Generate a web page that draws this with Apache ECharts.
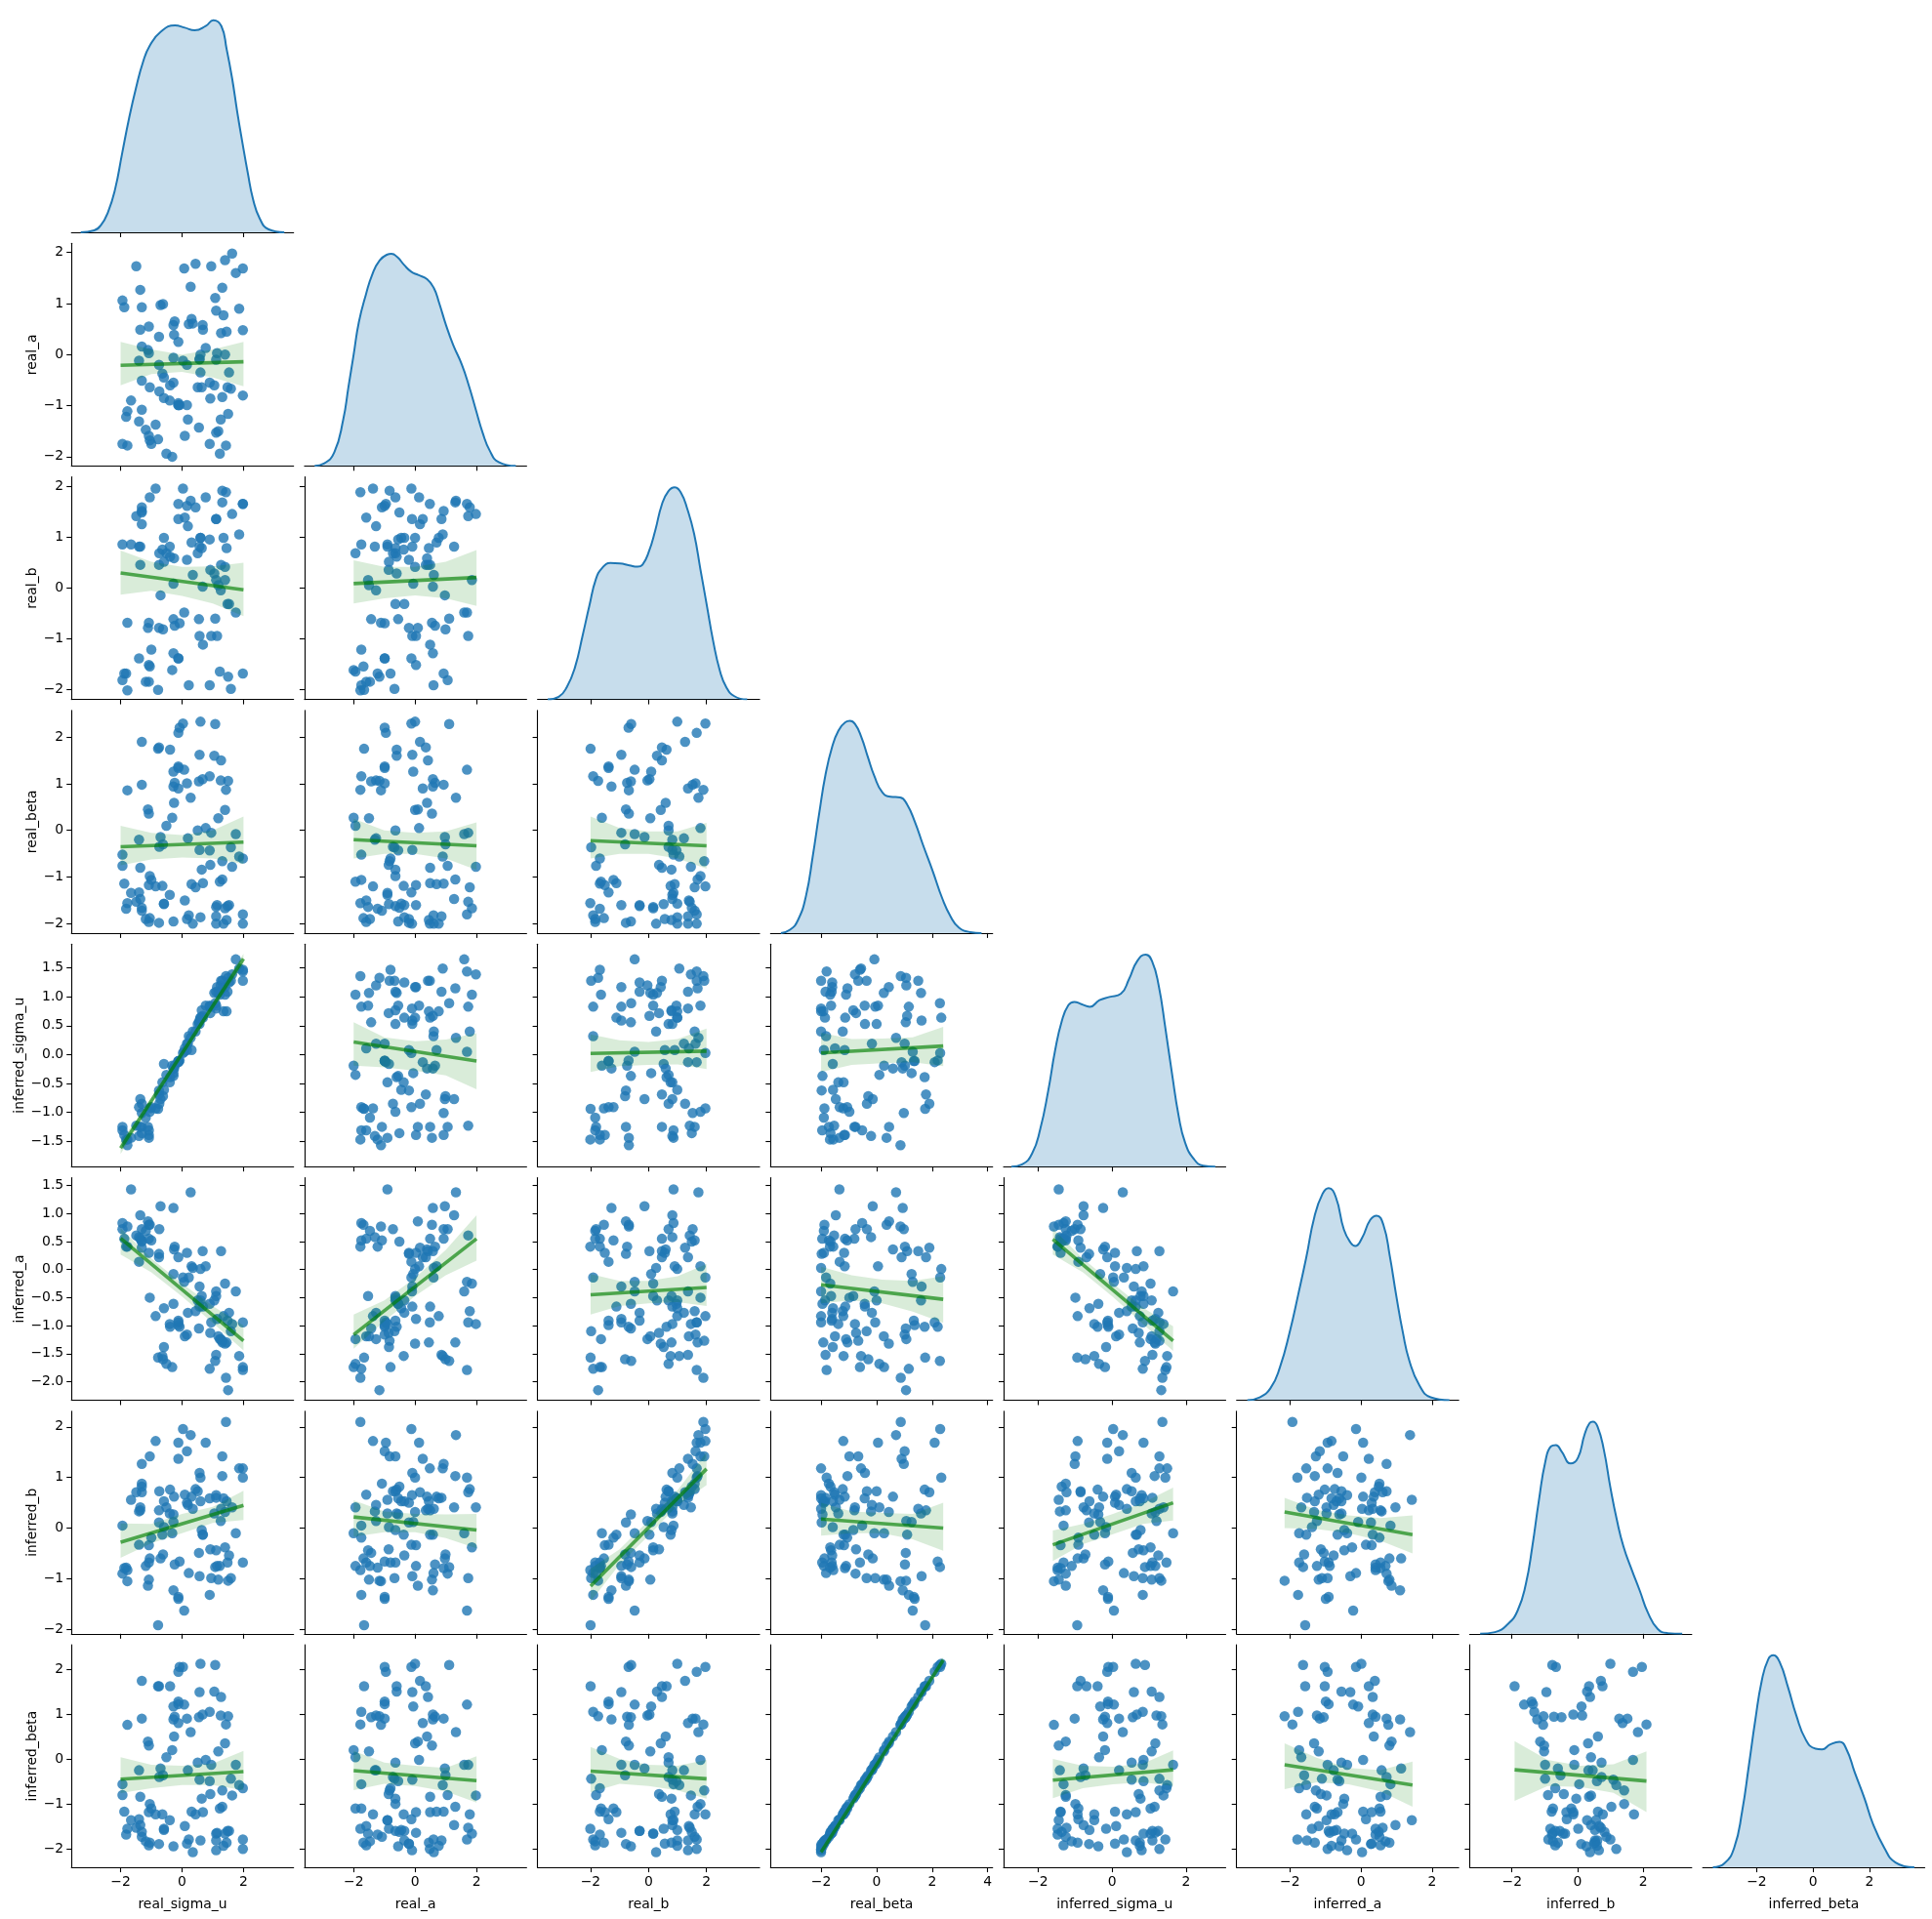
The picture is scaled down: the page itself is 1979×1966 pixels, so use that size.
<!DOCTYPE html>
<html><head><meta charset="utf-8">
<style>html,body{margin:0;padding:0;background:#fff}#c{width:1979px;height:1966px}</style>
<script src="https://cdn.jsdelivr.net/npm/echarts@6/dist/echarts.min.js"></script>
</head><body><div id="c"></div>
<script>
const varNames = ['real_sigma_u','real_a','real_b','real_beta','inferred_sigma_u','inferred_a','inferred_b','inferred_beta'];

const real_sigma_u = [.6,1.08,-.08,.03,-.12,-1.31,-.78,-.75,-.39,1.05,
 .57,1.27,-.12,-.12,.07,-.28,.9,.67,1.26,1.5,
 -.24,.55,-1.31,.16,-.28,-.12,1.43,-1.78,.28,-.26,
 -1.11,1.4,-1.08,-.32,1.18,-.51,.77,.51,.95,1.75,
 -1.4,-.7,.19,-.62,-.74,1.59,.57,.9,-1.94,1.86,
 1.98,1.31,-1.94,-1.36,1.63,.92,.64,-1.05,1.31,1.23,
 -1.0,-1.88,-1.08,.68,.31,.44,-.86,-.64,-1.4,-.4,
 -1.66,-1.36,.09,-1.49,-1.78,-.59,-.59,1.48,1.53,-1.31,
 1.14,1.11,1.4,-1.82,-1.31,.22,1.98,.6,1.11,-1.18,
 -1.05,1.45,.16,-1.08,1.35,-.28,1.98,1.11,.35,-.75];
const real_a = [0,1.11,-.99,-.12,-.95,.16,-1.66,.35,-.6,-.6,
 -.09,.42,-.99,-.99,1.69,-.06,-1.75,.58,-1.27,-1.16,
 .65,-1.43,.93,-.99,.58,.25,-1.78,-1.11,1.33,.39,
 .09,0,.55,-2,-1.5,-1.94,.13,-.64,1.73,1.6,
 -1.31,.97,-1.27,.99,-.72,-.67,-.09,-.55,-1.75,.9,
 -.8,-.83,1.06,.49,1.98,-.86,-.64,-.64,1.31,-1.94,
 -1.75,.93,.03,.49,.7,1.78,-1.37,-.37,-.12,-.9,
 -.9,1.27,-1.59,1.73,-1.78,-.85,-.45,-.64,-.35,-.51,
 .03,-1.53,1.85,-1.22,-1.08,.6,1.69,-.35,.86,-1.47,
 -1.68,.45,-.2,-1.59,.77,-.55,.48,-.1,.61,-.2];
const real_b = [.99,-.6,-.69,1.96,1.66,1.26,-2.0,.46,.62,.29,
 -.94,.46,-1.38,-1.38,-.48,.09,-1.91,.03,-.04,-1.74,
 -.74,-.61,1.52,1.62,-1.28,1.36,1.89,-.68,1.72,.59,
 -.78,.42,-.68,-1.61,.06,.69,1.79,.69,-.94,-.48,
 .82,-.14,1.22,-.81,.69,-1.98,.82,.96,.86,1.06,
 -1.68,1.92,-1.81,.46,1.46,.36,.79,1.79,1.69,-1.64,
 -1.21,-1.68,-1.51,-1.11,.9,1.59,1.96,.76,-1.38,.82,
 .86,.82,1.39,1.42,-2.01,.52,.99,-.31,-.31,1.49,
 -.94,.16,.16,-1.68,1.59,-1.91,1.66,.99,1.36,-1.84,
 -1.54,.79,.56,-1.84,.99,-.61,1.66,1.36,.26,-.78];
const real_beta = [2.33,2.28,2.2,2.29,2.09,1.9,1.75,1.78,1.73,1.6,
 1.62,1.5,1.37,1.34,1.3,1.26,1.16,1.1,1.07,1.06,
 1.02,1.05,.98,1.01,.94,.9,.87,.86,.7,.59,
 .45,.44,.36,.27,.26,.1,.05,0,-.05,-.08,
 -.2,-.14,-.17,-.3,-.35,-.36,-.42,-.43,-.52,-.56,
 -.6,-.66,-.76,-.8,-.78,-.74,-.84,-.98,-1.05,-1.1,
 -1.06,-1.14,-1.17,-1.13,-1.15,-1.22,-1.2,-1.19,-1.33,-1.38,
 -1.34,-1.47,-1.5,-1.53,-1.56,-1.58,-1.57,-1.62,-1.6,-1.66,
 -1.6,-1.64,-1.67,-1.68,-1.72,-1.82,-1.8,-1.86,-1.84,-1.9,
 -1.88,-1.92,-1.9,-1.96,-2.0,-1.95,-2.0,-2.0,-2.0,-1.98];
const inferred_sigma_u = [.64,.89,-.1,.03,-.13,-.85,-.94,-.69,-.39,1.07,
 .59,1.28,-.11,-.11,.05,-.32,.83,.67,1.2,1.33,
 -.19,.56,-1.01,.19,-.24,-.13,1.36,-1.57,.29,-.24,
 -1.25,1.17,-1.44,-.19,1.07,-.35,.85,.53,.83,1.65,
 -1.41,-.77,.19,-.72,-.85,1.28,.53,.85,-1.31,1.49,
 1.47,1.28,-1.25,-1.25,1.39,.72,.77,-.99,1.15,1.04,
 -.91,-1.39,-1.39,.64,.08,.4,-.93,-.48,-.91,-.48,
 -1.44,-.77,.11,-1.23,-1.47,-.16,-.61,1.09,1.25,-1.36,
 1.17,.85,1.04,-1.47,-1.25,.32,1.44,.64,1.09,-1.09,
 -.93,.75,.08,-1.31,.75,-.37,1.28,.8,.4,-.62];
const inferred_a = [.01,-1.63,-1.02,-.14,-.94,.39,-1.57,.22,-1.02,-.55,
 -.3,.33,-.99,-.91,-.22,-.08,-1.77,.33,-1.24,-2.15,
 .41,-1.05,.72,-1.16,1.1,.22,-1.93,.77,1.38,.36,
 .86,-1.32,.8,-1.74,-1.19,-1.68,.06,-.55,-.94,-.39,
 .58,1.13,-.77,-1.6,.72,-1.1,-.66,-.61,.83,-1.54,
 -1.74,-1.27,.72,.55,-.97,-1.13,-.47,-.5,-1.3,-1.24,
 .52,.55,.3,-.66,.06,-.74,-.83,-1.54,.14,-.97,
 1.43,.97,-1.19,.61,.41,-1.38,-.69,-.91,-.77,.5,
 -.88,-.47,-.25,.41,.52,-.14,-1.79,-.55,-1.52,.69,
 .8,-1.3,.3,.55,-.83,-.61,-.94,-.39,.03,.28];
const inferred_b = [1.0,-.77,-.66,1.96,1.69,.71,-1.92,.35,.76,.29,
 -.95,.38,-1.4,-1.36,-1.63,.12,-1.32,-.13,.14,-1.04,
 -.72,-.49,1.27,1.52,-1.23,1.37,2.1,-1.05,1.84,.62,
 -1.14,.32,-1.02,-.1,-1.02,.41,1.69,.73,-.99,-.1,
 .33,-.6,.46,-.52,.73,-.99,1.09,.59,.05,1.18,
 -.68,1.42,-.9,.35,.41,-.42,-.04,1.42,1.03,-.75,
 -.19,-.79,-.34,-.13,.62,.77,1.72,-.13,-.33,.29,
 .56,.41,.66,.71,-.83,.02,.53,-.68,-.54,.82,
 -.75,-.44,-.38,-.78,.88,-.89,1.0,.53,.6,-.75,
 -.6,.53,.5,-.68,.59,.27,1.18,.65,.38,.11];
const inferred_beta = [2.12,2.09,2.05,2.05,1.94,1.74,1.62,1.62,1.62,1.5,
 1.49,1.38,1.28,1.22,1.21,1.17,1.05,.99,.97,.95,
 .94,.93,.9,.9,.88,.8,.77,.76,.6,.5,
 .39,.35,.3,.2,.17,.04,-.02,-.08,-.13,-.13,
 -.25,-.21,-.25,-.36,-.4,-.44,-.46,-.49,-.56,-.58,
 -.65,-.7,-.8,-.84,-.81,-.78,-.88,-1.0,-1.06,-1.1,
 -1.1,-1.17,-1.18,-1.18,-1.17,-1.23,-1.23,-1.23,-1.34,-1.36,
 -1.36,-1.47,-1.49,-1.53,-1.55,-1.55,-1.58,-1.6,-1.6,-1.62,
 -1.64,-1.66,-1.66,-1.68,-1.73,-1.79,-1.79,-1.81,-1.81,-1.83,
 -1.86,-1.86,-1.88,-1.92,-1.93,-1.94,-2.0,-2.03,-2.07,-1.89];

// density curves: [x, height]
const kde_real_sigma_u = [[-3.3,0],[-2.86,6],[-2.64,22],[-2.41,62],[-2.18,132],[-1.95,242],[-1.73,347],[-1.5,442],[-1.27,522],[-1.05,572],[-.7,614],[-.23,634],[.09,627],[.41,619],[.77,632],[1.02,650],[1.28,632],[1.45,562],[1.63,472],[1.8,367],[1.97,272],[2.14,182],[2.31,102],[2.53,42],[2.82,9],[3.33,0]];
const kde_real_a = [[-3.27,0],[-2.97,7],[-2.63,42],[-2.34,142],[-2.17,242],[-2,342],[-1.83,442],[-1.6,527],[-1.38,592],[-1.15,632],[-.92,649],[-.77,652],[-.58,642],[-.35,617],[-.125,597],[.1,587],[.39,574],[.61,547],[.78,502],[1.01,432],[1.24,372],[1.52,312],[1.75,247],[1.98,172],[2.2,102],[2.43,47],[2.72,12],[3.28,0]];
const kde_real_b = [[-3.48,0],[-3.1,8],[-2.82,38],[-2.54,98],[-2.27,198],[-2.04,288],[-1.82,368],[-1.6,403],[-1.32,418],[-.99,417],[-.66,411],[-.38,407],[-.21,413],[.01,453],[.23,518],[.46,598],[.68,638],[.9,650],[1.12,633],[1.34,583],[1.57,508],[1.79,398],[2.01,288],[2.23,178],[2.46,88],[2.68,38],[2.96,10],[3.4,0]];
const kde_real_beta = [[-3.45,0],[-3.12,10],[-2.83,40],[-2.54,115],[-2.3,235],[-2.07,365],[-1.84,485],[-1.6,570],[-1.37,620],[-1.13,645],[-.96,649],[-.78,640],[-.55,600],[-.32,540],[-.08,480],[.21,430],[.5,417],[.85,415],[1.09,395],[1.38,340],[1.67,270],[2.02,190],[2.37,105],[2.67,50],[2.96,17],[3.37,3],[3.78,0]];
const kde_inferred_sigma_u = [[-2.72,0],[-2.43,7],[-2.16,40],[-1.94,115],[-1.72,235],[-1.54,355],[-1.36,445],[-1.18,495],[-1.02,505],[-.83,498],[-.6,490],[-.34,510],[-.07,520],[.24,530],[.46,575],[.68,630],[.91,650],[1.08,630],[1.26,555],[1.44,425],[1.62,285],[1.8,155],[1.97,75],[2.2,25],[2.46,3],[2.79,0]];
const kde_inferred_a = [[-3.2,0],[-2.87,8],[-2.55,36],[-2.28,101],[-2,211],[-1.77,321],[-1.54,436],[-1.31,561],[-1.08,631],[-.91,648],[-.71,621],[-.48,521],[-.29,481],[-.16,471],[.03,496],[.26,551],[.44,564],[.63,536],[.81,441],[.99,321],[1.18,206],[1.36,121],[1.64,46],[1.96,9],[2.49,0]];
const kde_inferred_b = [[-2.97,0],[-2.52,5],[-2.12,30],[-1.83,70],[-1.58,150],[-1.38,265],[-1.18,405],[-.98,525],[-.81,570],[-.66,574],[-.49,555],[-.21,518],[.01,535],[.21,605],[.36,640],[.47,645],[.61,630],[.8,560],[1,445],[1.2,345],[1.4,265],[1.65,195],[1.9,130],[2.14,65],[2.44,15],[2.74,2],[3.19,0]];
const kde_inferred_beta = [[-3.56,0],[-3.15,12],[-2.8,60],[-2.52,170],[-2.28,310],[-2.05,450],[-1.82,570],[-1.59,635],[-1.41,647],[-1.18,625],[-.89,550],[-.6,465],[-.26,390],[.09,362],[.32,360],[.61,375],[.94,383],[1.19,360],[1.48,290],[1.83,210],[2.12,135],[2.53,60],[2.93,15],[3.6,0]];

// axis limits and ticks
const xLimits = [[-3.6,3.63],[-3.6,3.63],[-3.83,3.83],[-3.82,4.18],[-2.93,3.07],[-3.5,2.75],[-3.29,3.48],[-3.92,3.97]];
const yLimits = [[0,1],[-2.18,2.18],[-2.19,2.19],[-2.2,2.57],[-1.94,1.915],[-2.33,1.64],[-2.09,2.31],[-2.41,2.54]];
const xTicks = [[-2,0,2],[-2,0,2],[-2,0,2],[-2,0,2,4],[-2,0,2],[-2,0,2],[-2,0,2],[-2,0,2]];
const yTicks = [[],[-2,-1,0,1,2],[-2,-1,0,1,2],[-2,-1,0,1,2],[-1.5,-1,-.5,0,.5,1,1.5],[-2,-1.5,-1,-.5,0,.5,1,1.5],[-2,-1,0,1,2],[-2,-1,0,1,2]];
const yDecimals = [0,0,0,0,1,1,0,0];
const fitSpan = [[-2,2],[-2,2],[-2,2],[-2,2.4],[-1.6,1.65],[-2.15,1.45],[-1.92,2.1],[-2.08,2.1]];

// fitted lines and confidence bands read per panel, order: row 1..7, col 0..row-1
const fitEnds = [[-.21,-.14],[.3,-.03],[.09,.21],[-.35,-.25],[-.2,-.33],[-.22,-.33],[-1.62,1.66],[.22,-.11],[.02,.06],[.03,.15],[.56,-1.27],[-1.16,.55],[-.45,-.32],[-.27,-.53],[.54,-1.27],[-.28,.45],[.22,-.04],[-1.15,1.17],[.18,0],[-.33,.5],[.32,-.13],[-.45,-.28],[-.26,-.48],[-.27,-.44],[-2.07,2.2],[-.47,-.24],[-.13,-.58],[-.24,-.49]];
const bandUpper = [[.25,.1,0,.1,.25],[.74,.52,.42,.43,.5],[.55,.42,.42,.52,.75],[.1,-.05,-.1,0,.3],[.25,0,-.05,-.02,.17],[.3,.05,-.02,-.02,.16],[-1.5,-.78,.06,.9,1.75],[.56,.3,.23,.26,.37],[.35,.25,.22,.27,.45],[.38,.27,.28,.3,.48],[.74,.2,-.25,-.65,-1.0],[-.8,-.55,-.15,.35,.97],[-.08,-.2,-.2,-.12,.1],[.05,-.1,-.18,-.2,-.12],[.73,.2,-.25,-.68,-1.01],[.09,.08,.28,.42,.74],[.55,.33,.28,.27,.28],[-.8,-.42,.15,.75,1.5],[.5,.33,.3,.28,.5],[-.05,.08,.28,.5,.8],[.6,.36,.25,.2,.25],[.04,-.13,-.15,-.1,.18],[.18,-.08,-.15,-.2,.06],[.27,0,-.13,-.15,-.02],[-2.02,-1.0,.1,1.18,2.27],[0,-.15,-.17,-.1,.19],[.35,.03,-.2,-.25,-.06],[.4,-.02,-.15,-.12,.17]];
const bandLower = [[-.6,-.38,-.34,-.45,-.62],[-.13,-.05,-.15,-.3,-.55],[-.3,-.2,-.14,-.2,-.35],[-.75,-.62,-.58,-.6,-.72],[-.6,-.5,-.5,-.6,-.85],[-.6,-.5,-.5,-.6,-.82],[-1.72,-.87,-.03,.8,1.56],[-.19,-.22,-.28,-.36,-.6],[-.3,-.2,-.18,-.17,-.25],[-.3,-.18,-.15,-.13,-.2],[.27,-.05,-.48,-.95,-1.44],[-1.41,-.92,-.47,-.1,.16],[-.8,-.65,-.6,-.58,-.65],[-.6,-.55,-.6,-.75,-.95],[.27,-.05,-.49,-.97,-1.45],[-.59,-.3,-.1,.1,.16],[-.17,-.08,-.08,-.2,-.4],[-1.45,-.72,-.15,.45,.85],[-.15,-.1,-.1,-.22,-.45],[-.65,-.32,-.12,.08,.15],[0,-.02,-.1,-.25,-.5],[-.76,-.65,-.58,-.58,-.69],[-.69,-.55,-.6,-.72,-.97],[-.74,-.55,-.6,-.7,-.88],[-2.12,-1.08,.03,1.1,2.14],[-.87,-.65,-.56,-.52,-.6],[-.67,-.52,-.56,-.72,-1.06],[-.93,-.6,-.62,-.75,-1.18]];

const columns = [real_sigma_u,real_a,real_b,real_beta,inferred_sigma_u,inferred_a,inferred_b,inferred_beta];
const kdes = [kde_real_sigma_u,kde_real_a,kde_real_b,kde_real_beta,kde_inferred_sigma_u,kde_inferred_a,kde_inferred_b,kde_inferred_beta];

const FONT = 'DejaVu Sans', FS = 13.9;
const panelLeft = c => 73.2 + 238.7 * c, panelTop = r => 10 + 239.3 * r, PW = 227.5, PH = 228;
const yNameGap = [0,32,32,32,46,46,32,32];
const minus = s => s.replace('-', '\u2212');

const grids = [], xAxes = [], yAxes = [], series = [];
const axisLine = {show:true, onZero:false, lineStyle:{color:'#000', width:1.1}};

function addPanel(r, c) {
  const idx = grids.length;
  const diag = r === c;
  grids.push({left:panelLeft(c), top:panelTop(r), width:PW, height:PH, containLabel:false});
  xAxes.push({
    gridIndex:idx, type:'value', min:xLimits[c][0], max:xLimits[c][1], position:'bottom',
    axisLine, splitLine:{show:false},
    axisTick:{show:true, length:5, inside:false, customValues:xTicks[c], lineStyle:{color:'#000', width:1.1}},
    axisLabel:{show:r===7, customValues:xTicks[c], margin:8, color:'#000', fontFamily:FONT, fontSize:FS, formatter:v=>minus(String(v))},
    name:r===7?varNames[c]:'', nameLocation:'middle', nameGap:31,
    nameTextStyle:{color:'#000', fontFamily:FONT, fontSize:FS}
  });
  if (diag) {
    const peak = Math.max(...kdes[c].map(p=>p[1]));
    yAxes.push({gridIndex:idx, type:'value', show:false, min:0, max:peak/0.953});
    series.push({type:'line', xAxisIndex:idx, yAxisIndex:idx, data:kdes[c], showSymbol:false, smooth:0.5,
      lineStyle:{color:'#1f77b4', width:2}, areaStyle:{color:'#1f77b4', opacity:0.25, origin:'start'}, z:3, silent:true});
    return;
  }
  yAxes.push({
    gridIndex:idx, type:'value', min:yLimits[r][0], max:yLimits[r][1], position:'left',
    axisLine, splitLine:{show:false},
    axisTick:{show:true, length:5, inside:false, customValues:yTicks[r], lineStyle:{color:'#000', width:1.1}},
    axisLabel:{show:c===0, customValues:yTicks[r], margin:8, color:'#000', fontFamily:FONT, fontSize:FS, formatter:v=>minus(v.toFixed(yDecimals[r]))},
    name:c===0?varNames[r]:'', nameLocation:'middle', nameGap:yNameGap[r], nameRotate:90,
    nameTextStyle:{color:'#000', fontFamily:FONT, fontSize:FS}
  });
  const pts = columns[c].map((x,i)=>[x, columns[r][i]]);
  series.push({type:'scatter', xAxisIndex:idx, yAxisIndex:idx, data:pts, symbolSize:10.5,
    itemStyle:{color:'#1f77b4', opacity:0.8}, z:2, silent:true, clip:true});
  const k = (r-1)*r/2 + c;
  const [x0,x1] = fitSpan[c];
  const step = (x1-x0)/4;
  const bandX = [x0, x0+step, x0+2*step, x0+3*step, x1];
  const band = bandX.map((x,i)=>[x, bandLower[k][i], bandUpper[k][i]]);
  series.push({type:'custom', xAxisIndex:idx, yAxisIndex:idx, data:band, z:3, silent:true, clip:true,
    encode:{x:0, y:[1,2]},
    renderItem:(p,api)=>{
      if (p.dataIndex!==0) return null;
      const up = band.map(b=>api.coord([b[0],b[2]]));
      const lo = band.map(b=>api.coord([b[0],b[1]])).reverse();
      return {type:'polygon', shape:{points:up.concat(lo), smooth:0}, style:{fill:'rgba(0,128,0,0.15)'}};
    }});
  series.push({type:'line', xAxisIndex:idx, yAxisIndex:idx, data:[[x0,fitEnds[k][0]],[x1,fitEnds[k][1]]], showSymbol:false,
    lineStyle:{color:'rgba(0,128,0,0.65)', width:3.6, cap:'butt'}, z:4, silent:true});
}
for (let r=0;r<8;r++) for (let c=0;c<=r;c++) addPanel(r,c);

const chart = echarts.init(document.getElementById('c'), null, {renderer:'canvas', width:1979, height:1966});
chart.setOption({animation:false, backgroundColor:'#fff', grid:grids, xAxis:xAxes, yAxis:yAxes, series});
</script></body></html>
